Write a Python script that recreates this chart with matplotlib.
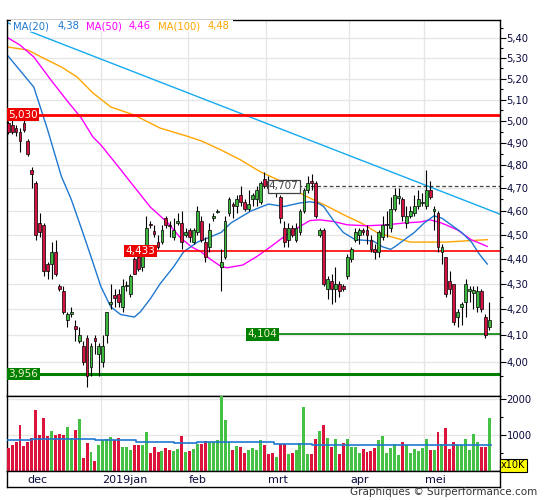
import matplotlib
matplotlib.use("Agg")
import matplotlib.pyplot as plt
from matplotlib.patches import Rectangle
from matplotlib.ticker import FixedLocator, FuncFormatter, NullFormatter
from matplotlib.transforms import blended_transform_factory

# daily candles, index 0 = last days of november 2018
opens = [4.99, 4.98, 4.97, 4.95, 4.99, 4.91, 4.78, 4.72, 4.55, 4.54,
         4.38, 4.38, 4.43, 4.29, 4.27, 4.16, 4.18, 4.135, 4.08, 4.06,
         4.09, 3.98, 4.09, 4.03, 4.00, 4.10, 4.22, 4.255, 4.26, 4.21,
         4.29, 4.26, 4.40, 4.41, 4.37, 4.44, 4.545, 4.515, 4.47, 4.47,
         4.57, 4.54, 4.49, 4.55, 4.55, 4.50, 4.52, 4.47, 4.51, 4.56,
         4.47, 4.45, 4.57, 4.595, 4.37, 4.41, 4.59, 4.63, 4.62, 4.67,
         4.64, 4.61, 4.65, 4.65, 4.64, 4.74, 4.73, 4.72, 4.68, 4.66,
         4.53, 4.48, 4.53, 4.48, 4.51, 4.60, 4.69, 4.73, 4.72, 4.50,
         4.52, 4.28, 4.31, 4.28, 4.30, 4.29, 4.33, 4.40, 4.48, 4.50,
         4.52, 4.52, 4.48, 4.44, 4.43, 4.49, 4.54, 4.53, 4.61, 4.655,
         4.65, 4.55, 4.58, 4.59, 4.62, 4.635, 4.62, 4.69, 4.60, 4.59,
         4.43, 4.41, 4.31, 4.30, 4.17, 4.21, 4.23, 4.27, 4.265, 4.21,
         4.27, 4.17, 4.13]
highs = [5.00, 5.01, 4.98, 4.97, 5.02, 4.92, 4.79, 4.73, 4.59, 4.55,
         4.39, 4.47, 4.48, 4.30, 4.29, 4.19, 4.21, 4.16, 4.13, 4.08,
         4.10, 4.07, 4.10, 4.07, 4.10, 4.19, 4.30, 4.28, 4.28, 4.32,
         4.31, 4.34, 4.41, 4.44, 4.45, 4.58, 4.56, 4.54, 4.50, 4.54,
         4.58, 4.56, 4.57, 4.59, 4.60, 4.53, 4.53, 4.53, 4.62, 4.58,
         4.49, 4.55, 4.59, 4.61, 4.44, 4.58, 4.66, 4.64, 4.67, 4.71,
         4.65, 4.69, 4.68, 4.71, 4.73, 4.77, 4.75, 4.73, 4.71, 4.67,
         4.56, 4.55, 4.54, 4.55, 4.61, 4.70, 4.75, 4.76, 4.73, 4.53,
         4.53, 4.33, 4.34, 4.37, 4.31, 4.30, 4.42, 4.45, 4.53, 4.53,
         4.53, 4.54, 4.50, 4.46, 4.52, 4.58, 4.60, 4.66, 4.70, 4.70,
         4.66, 4.62, 4.62, 4.67, 4.69, 4.68, 4.78, 4.73, 4.62, 4.60,
         4.46, 4.41, 4.35, 4.30, 4.20, 4.23, 4.32, 4.29, 4.29, 4.29,
         4.28, 4.18, 4.23]
lows = [4.94, 4.94, 4.93, 4.86, 4.95, 4.84, 4.70, 4.48, 4.49, 4.33,
        4.32, 4.32, 4.33, 4.27, 4.18, 4.13, 4.17, 4.08, 4.07, 3.99,
        3.91, 3.95, 4.03, 3.95, 3.98, 4.07, 4.20, 4.21, 4.21, 4.19,
        4.27, 4.25, 4.34, 4.35, 4.35, 4.43, 4.53, 4.49, 4.44, 4.46,
        4.53, 4.49, 4.48, 4.54, 4.44, 4.49, 4.47, 4.46, 4.50, 4.47,
        4.39, 4.43, 4.56, 4.59, 4.27, 4.40, 4.58, 4.57, 4.59, 4.62,
        4.60, 4.60, 4.62, 4.62, 4.63, 4.70, 4.69, 4.68, 4.66, 4.55,
        4.45, 4.45, 4.49, 4.47, 4.50, 4.59, 4.68, 4.69, 4.57, 4.49,
        4.29, 4.24, 4.22, 4.23, 4.25, 4.27, 4.32, 4.39, 4.47, 4.46,
        4.50, 4.46, 4.43, 4.40, 4.41, 4.48, 4.49, 4.51, 4.60, 4.63,
        4.56, 4.53, 4.57, 4.58, 4.61, 4.62, 4.61, 4.65, 4.52, 4.43,
        4.38, 4.25, 4.26, 4.14, 4.13, 4.14, 4.17, 4.23, 4.20, 4.19,
        4.19, 4.09, 4.12]
closes = [4.95, 4.95, 4.95, 4.91, 4.96, 4.85, 4.76, 4.50, 4.51, 4.35,
          4.35, 4.43, 4.34, 4.28, 4.19, 4.18, 4.19, 4.125, 4.10, 4.00,
          3.95, 4.06, 4.08, 4.06, 4.06, 4.19, 4.23, 4.245, 4.23, 4.29,
          4.295, 4.33, 4.34, 4.36, 4.42, 4.53, 4.54, 4.505, 4.45, 4.52,
          4.54, 4.535, 4.52, 4.56, 4.47, 4.51, 4.49, 4.52, 4.60, 4.48,
          4.41, 4.52, 4.58, 4.60, 4.39, 4.56, 4.65, 4.62, 4.65, 4.64,
          4.61, 4.63, 4.67, 4.69, 4.72, 4.71, 4.70, 4.70, 4.70, 4.57,
          4.47, 4.53, 4.50, 4.53, 4.60, 4.69, 4.72, 4.72, 4.58, 4.52,
          4.30, 4.32, 4.28, 4.30, 4.27, 4.28, 4.41, 4.44, 4.51, 4.52,
          4.51, 4.50, 4.44, 4.43, 4.51, 4.54, 4.545, 4.61, 4.67, 4.665,
          4.58, 4.58, 4.60, 4.62, 4.65, 4.64, 4.69, 4.66, 4.61, 4.45,
          4.45, 4.26, 4.28, 4.15, 4.19, 4.22, 4.30, 4.28, 4.275, 4.27,
          4.20, 4.10, 4.16]
# volume in units of 10K
volumes = [647, 734, 812, 1295, 705, 812, 908, 1690, 995, 1488,
           966, 1111, 1005, 1024, 1005, 1227, 918, 1140, 1459, 357,
           792, 531, 270, 734, 860, 879, 937, 860, 908, 676,
           676, 589, 734, 715, 734, 1082, 502, 676, 541, 560,
           647, 589, 560, 618, 966, 541, 560, 618, 763, 763,
           840, 812, 812, 870, 2087, 1430, 812, 589, 696, 676,
           502, 589, 638, 589, 850, 715, 473, 502, 386, 744,
           744, 473, 502, 589, 783, 1778, 473, 473, 879, 1111,
           1295, 908, 676, 879, 473, 792, 879, 676, 676, 502,
           618, 531, 560, 647, 850, 966, 502, 647, 763, 444,
           821, 715, 502, 618, 560, 647, 879, 589, 589, 1082,
           763, 1198, 618, 821, 734, 734, 879, 589, 1024, 821,
           676, 676, 1488]

# moving averages (index, value)
ma20_idx = [0, 6.5, 10, 13.5, 16, 18.5, 21, 23.5, 26, 28.5,
            32, 33.5, 36, 38.5, 42, 44.5, 48, 54, 56.5, 61.5,
            66, 70, 74, 76.5, 78.5, 80, 82.5, 85, 88, 92.5,
            95, 97, 98, 100.5, 103, 105.5, 108, 110, 112.5, 115,
            117.5, 119.5, 121.5]
ma20_vals = [5.31, 5.16, 4.96, 4.75, 4.65, 4.53, 4.41, 4.29, 4.21, 4.18,
             4.17, 4.19, 4.24, 4.30, 4.37, 4.43, 4.47, 4.51, 4.55, 4.60,
             4.63, 4.62, 4.635, 4.64, 4.635, 4.62, 4.56, 4.51, 4.48, 4.475,
             4.45, 4.44, 4.45, 4.48, 4.51, 4.55, 4.58, 4.57, 4.54, 4.51,
             4.47, 4.42, 4.38]
ma50_idx = [0, 3, 6.5, 11, 15, 18.5, 21.5, 23.5, 28, 32,
            36, 40.5, 43.5, 46.5, 49, 51.5, 54, 55.5, 59.5, 63,
            66.5, 70, 73.5, 76.5, 79, 82.5, 86, 91, 96, 100.5,
            104.5, 107, 109.5, 111, 114, 117.5, 119.5, 121.5]
ma50_vals = [5.40, 5.365, 5.306, 5.19, 5.094, 5.015, 4.927, 4.891, 4.792, 4.704,
             4.618, 4.55, 4.491, 4.45, 4.429, 4.397, 4.37, 4.365, 4.376, 4.41,
             4.45, 4.493, 4.53, 4.56, 4.563, 4.556, 4.542, 4.538, 4.542, 4.55,
             4.554, 4.563, 4.552, 4.542, 4.52, 4.479, 4.466, 4.452]
ma100_idx = [0, 5, 9, 13.5, 17.5, 21.5, 26, 32, 38.5, 45.5,
             49, 54, 59, 64, 68.5, 72.5, 76.5, 81, 85, 89.5,
             93.5, 97.5, 102, 106, 111, 116, 121.5]
ma100_vals = [5.355, 5.34, 5.30, 5.257, 5.208, 5.132, 5.066, 5.028, 4.968, 4.93,
              4.909, 4.868, 4.823, 4.77, 4.735, 4.691, 4.656, 4.62, 4.585, 4.55,
              4.51, 4.49, 4.47, 4.47, 4.47, 4.475, 4.48]
trend_idx = [-0.05, 124.6]
trend_vals = [5.476, 4.588]
vol_ma_idx = [-0.5, 6, 22, 32.5, 42, 48, 67.5, 77, 79, 122.5]
vol_ma_vals = [870, 905, 870, 815, 775, 820, 765, 715, 735, 735]

month_edges = [4.5, 23.5, 45.5, 65.5, 86.5, 105.5]
month_names = ["dec", "2019jan", "feb", "mrt", "apr", "mei"]
price_ticks = [4.0, 4.1, 4.2, 4.3, 4.4, 4.5, 4.6, 4.7, 4.8, 4.9, 5.0, 5.1, 5.2, 5.3, 5.4]
legend_names = ["MA(20)", "MA(50)", "MA(100)"]
legend_last = [4.38, 4.46, 4.48]

UP, DOWN = "#3cb93c", "#d3123f"
VOL_UP, VOL_DOWN = "#45c245", "#dc143c"
MA20_C, MA50_C, MA100_C, TREND_C = "#1f78d0", "#ff00ff", "#ffa500", "#14aaf0"
GRID = "#e6e6e6"
TXT = "#0a0a3c"

W, H = 545, 500


def box(x0, y0, x1, y1):
    return [x0 / W, 1 - y1 / H, (x1 - x0) / W, (y1 - y0) / H]


def comma(v, _pos=None):
    return f"{v:.2f}".replace(".", ",")


fig = plt.figure(figsize=(W / 100, H / 100), dpi=100)
ax = fig.add_axes(box(7, 20, 499.5, 396))
axv = fig.add_axes(box(7, 396, 499.5, 471), sharex=ax)
axd = fig.add_axes(box(7, 471, 499.5, 487), sharex=ax)

idx = list(range(len(closes)))
up = [c >= o for o, c in zip(opens, closes)]

# price panel
ax.set_yscale("log")
ax.set_ylim(3.876, 5.491)
ax.set_xlim(-0.3, 124.6)
ax.yaxis.set_major_locator(FixedLocator(price_ticks))
ax.yaxis.set_minor_locator(FixedLocator([t + 0.05 for t in price_ticks] + [3.95]))
ax.yaxis.set_major_formatter(FuncFormatter(comma))
ax.yaxis.set_minor_formatter(NullFormatter())
ax.yaxis.tick_right()
ax.tick_params(axis="y", which="major", direction="out", length=4, width=0.8,
               labelsize=7.2, labelcolor=TXT, pad=1)
ax.tick_params(axis="y", which="minor", direction="out", length=2.2, width=0.8)
ax.tick_params(axis="x", bottom=False, labelbottom=False)
ax.grid(axis="y", which="major", color=GRID, lw=1, zorder=0)
for m in month_edges[1:]:
    ax.axvline(m, color=GRID, lw=1, zorder=0)

ax.plot(trend_idx, trend_vals, color=TREND_C, lw=1, zorder=2)
ax.plot(ma100_idx, ma100_vals, color=MA100_C, lw=1, zorder=2)
ax.plot(ma50_idx, ma50_vals, color=MA50_C, lw=1, zorder=2)
ax.plot(ma20_idx, ma20_vals, color=MA20_C, lw=1, zorder=2)

# support / resistance levels
ax.axhline(5.030, color="#ff0000", lw=2, zorder=2)
ax.axhline(3.956, color="#008000", lw=2.2, zorder=2)
ax.hlines(4.433, 29.8, 124.6, color="#ff0000", lw=1.2, zorder=2)
ax.hlines(4.104, 60.7, 124.6, color="#008000", lw=1.2, zorder=2)
ax.hlines(4.707, 73.6, 124.6, color="#444444", lw=0.9, linestyles=(0, (3, 2)), zorder=2)

# candles
ax.vlines(idx, lows, highs, color="black", lw=0.8, zorder=3)
ax.bar(idx, [abs(c - o) for o, c in zip(opens, closes)],
       bottom=[min(o, c) for o, c in zip(opens, closes)], width=0.72,
       color=[UP if u else DOWN for u in up], edgecolor="black", lw=0.5, zorder=4)

label_kw = dict(fontsize=7.5, va="center", ha="left", zorder=6)
ax.text(0.05, 5.030, "5,030", color="white",
        bbox=dict(boxstyle="square,pad=0.12", fc="#ee0000", ec="none"), **label_kw)
ax.text(0.05, 3.956, "3,956", color="#f0f0d0",
        bbox=dict(boxstyle="square,pad=0.12", fc="#008000", ec="none"), **label_kw)
ax.text(29.8, 4.433, "4,433", color="white",
        bbox=dict(boxstyle="square,pad=0.12", fc="#ee0000", ec="none"), **label_kw)
ax.text(60.7, 4.104, "4,104", color="#f0f0d0",
        bbox=dict(boxstyle="square,pad=0.12", fc="#008000", ec="none"), **label_kw)
ax.text(66.1, 4.707, "4,707", color="#444444",
        bbox=dict(boxstyle="square,pad=0.12", fc="white", ec="#444444", lw=0.9), **label_kw)

# legend strip at the top
ax.add_patch(Rectangle((0.008, 0.968), 0.45, 0.032, transform=ax.transAxes,
                       fc="white", ec="none", zorder=5))
leg_x = [0.012, 0.102, 0.16, 0.246, 0.306, 0.408]
leg_txt, leg_col = [], []
for name, val, col in zip(legend_names, legend_last, [MA20_C, MA50_C, MA100_C]):
    leg_txt += [name, f"{val:.2f}".replace(".", ",")]
    leg_col += [col, col]
for x, t, c in zip(leg_x, leg_txt, leg_col):
    ax.text(x, 0.984, t, color=c, fontsize=7.2, transform=ax.transAxes,
            ha="left", va="center", zorder=6)

# volume panel
axv.bar(idx, volumes, width=0.75, color=[VOL_UP if u else VOL_DOWN for u in up], zorder=3)
axv.plot(vol_ma_idx, vol_ma_vals, color=MA20_C, lw=1.2, drawstyle="steps-post", zorder=4)
axv.set_ylim(0, 2090)
axv.yaxis.tick_right()
axv.yaxis.set_major_locator(FixedLocator([1000, 2000]))
axv.yaxis.set_minor_locator(FixedLocator([500, 1500]))
axv.tick_params(axis="y", which="major", direction="out", length=4, width=0.8,
                labelsize=7.2, labelcolor=TXT, pad=1)
axv.tick_params(axis="y", which="minor", direction="out", length=2.2, width=0.8)
axv.tick_params(axis="x", bottom=False, labelbottom=False)
axv.grid(axis="y", which="major", color=GRID, lw=1, zorder=0)
for m in month_edges[1:]:
    axv.axvline(m, color=GRID, lw=1, zorder=0)
fig.text(501 / W, 1 - 465.5 / H, "x10K", fontsize=7, color="black", ha="left", va="center",
         bbox=dict(boxstyle="square,pad=0.12", fc="#ffff00", ec="black", lw=0.8))

# month labels
axd.set_yticks([])
axd.tick_params(axis="x", bottom=False, labelbottom=False)
trans = blended_transform_factory(axd.transData, axd.transAxes)
for m, name in zip(month_edges, month_names):
    axd.text(m + 0.3, 0.45, name, transform=trans, fontsize=8, color=TXT,
             ha="left", va="center")

for a in (ax, axv, axd):
    for s in a.spines.values():
        s.set_color("black")
        s.set_linewidth(1)

fig.text(537 / W, 1 - 492 / H, "Graphiques \u00a9 Surperformance.com", fontsize=7.5,
         color="#333333", ha="right", va="center")

fig.savefig("out.png", dpi=100)
